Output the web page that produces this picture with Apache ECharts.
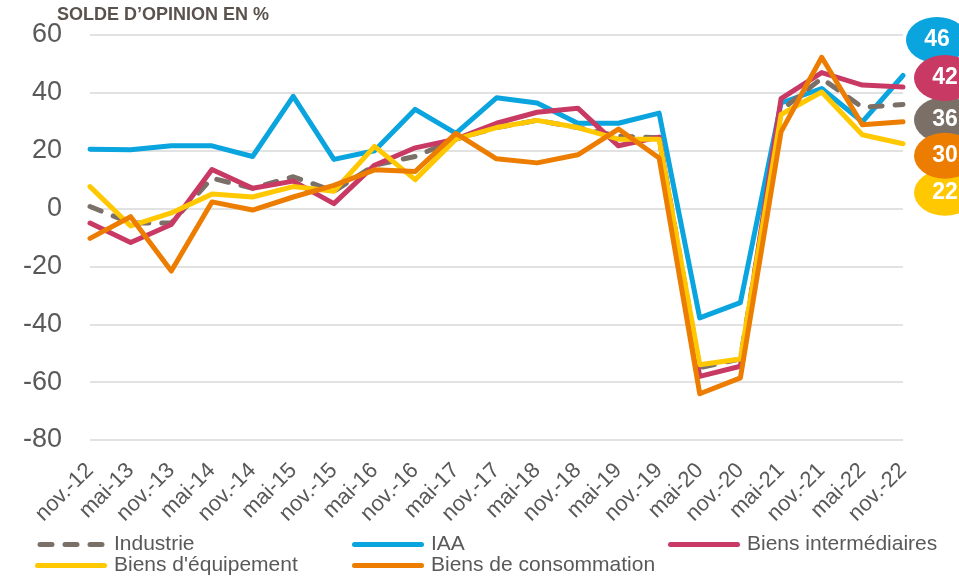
<!DOCTYPE html>
<html>
<head>
<meta charset="utf-8">
<script src="https://cdn.jsdelivr.net/npm/echarts@6/dist/echarts.min.js"></script>
<style>html,body{margin:0;padding:0;background:#fff;}#c{width:959px;height:576px;}</style>
</head>
<body>
<div id="c"></div>
<script>
const categories = ['nov.-12','mai-13','nov.-13','mai-14','nov.-14','mai-15','nov.-15','mai-16','nov.-16','mai-17','nov.-17','mai-18','nov.-18','mai-19','nov.-19','mai-20','nov.-20','mai-21','nov.-21','mai-22','nov.-22'];
const industrie = [0.7,-5,-5,10.5,7,11,6,15,18,24,28,30.5,28,25,24.5,-55,-52,34,45,35,36];
const iaa = [20.5,20.3,21.7,21.7,18,38.8,17,20,34.3,26,38.3,36.5,29.5,29.5,33,-37.8,-32.5,36.5,41.5,30,46];
const biensInter = [-5,-11.7,-5.5,13.5,7,9.5,1.7,15,21,24,29.5,33.3,34.7,21.7,24.7,-58,-54.5,38,47,42.7,42];
const biensEquip = [7.6,-6,-1.5,5,4,7.6,6,21.5,10,24,28,30.5,28,24,24,-54,-52,32.5,40.3,25.5,22.4];
const biensConso = [-10.3,-2.8,-21.6,2.3,-0.5,4,8,13.4,12.8,26,17.2,15.8,18.6,27.5,17.5,-64,-58.5,26.5,52.3,29,30];
const yTicks = [-80,-60,-40,-20,0,20,40,60];

const chart = echarts.init(document.getElementById('c'));
const txt = '#595959';
const FONT = 'Liberation Sans, Arial, sans-serif';
const solidIcon = 'path://M2.5,0H69.5A2.5,2.5,0,0,1,69.5,5H2.5A2.5,2.5,0,0,1,2.5,0Z';
const dashIcon = 'path://M2.5,0H14.5A2.5,2.5,0,0,1,14.5,5H2.5A2.5,2.5,0,0,1,2.5,0Z M27.5,0H39.5A2.5,2.5,0,0,1,39.5,5H27.5A2.5,2.5,0,0,1,27.5,0Z M52.5,0H64.5A2.5,2.5,0,0,1,64.5,5H52.5A2.5,2.5,0,0,1,52.5,0Z';
function mk(name, data, color, offset, z, dashed) {
  const last = data.length - 1;
  return {
    name: name, type: 'line', data: data, symbol: 'none', smooth: false,
    lineStyle: {color: color, width: 5, type: dashed ? [12, 13] : 'solid', cap: 'round', join: 'round'},
    itemStyle: {color: color},
    z: z,
    markPoint: {
      z: z + 3,
      silent: true,
      data: [{
        coord: [last, data[last]], value: Math.round(data[last]),
        symbol: 'circle', symbolSize: [62, 46], symbolOffset: offset,
        itemStyle: {color: color},
        label: {show: true, position: 'inside', color: '#fff', fontWeight: 'bold', fontSize: 23, fontFamily: FONT, formatter: '{c}'}
      }]
    }
  };
}
function leg(left, names) {
  return {
    orient: 'vertical', left: left, top: 534, padding: 0, itemWidth: 72, itemHeight: 5, itemGap: 0,
    textStyle: {fontSize: 21, color: txt, fontFamily: FONT, lineHeight: 21, padding: [0, 0, 0, 2]},
    selectedMode: false,
    data: names.map(n => ({name: n, icon: n === 'Industrie' ? dashIcon : solidIcon}))
  };
}
chart.setOption({
  animation: false,
  backgroundColor: '#fff',
  title: {text: 'SOLDE D\u2019OPINION EN %', left: 52, top: 1,
    textStyle: {fontSize: 18, fontWeight: 'bold', color: '#5a524d', fontFamily: FONT}},
  grid: {left: 90, right: 56, top: 35, bottom: 136, containLabel: false, outerBoundsMode: 'none'},
  legend: [
    leg(35, ['Industrie', "Biens d'équipement"]),
    leg(352, ['IAA', 'Biens de consommation']),
    leg(668, ['Biens intermédiaires'])
  ],
  xAxis: {
    type: 'category', data: categories, boundaryGap: false,
    axisLine: {show: false}, axisTick: {show: false}, splitLine: {show: false},
    axisLabel: {rotate: 45, fontSize: 22, color: txt, margin: 27, interval: 0, fontFamily: FONT}
  },
  yAxis: {
    type: 'value', min: yTicks[0], max: yTicks[yTicks.length - 1], interval: 20,
    axisLine: {show: false}, axisTick: {show: false},
    splitLine: {lineStyle: {color: '#d9d9d9', width: 1.5}},
    axisLabel: {fontSize: 27, color: txt, margin: 28, fontFamily: FONT}
  },
  series: [
    mk('Industrie', industrie, '#7a7068', [42, 15.6], 3, true),
    mk('IAA', iaa, '#0aa4df', [34, -35.5], 2, false),
    mk('Biens intermédiaires', biensInter, '#c83a64', [42, -9], 4, false),
    mk("Biens d'équipement", biensEquip, '#ffc800', [42, 49], 5, false),
    mk('Biens de consommation', biensConso, '#ed7d00', [42, 34], 6, false)
  ]
});
</script>
</body>
</html>
